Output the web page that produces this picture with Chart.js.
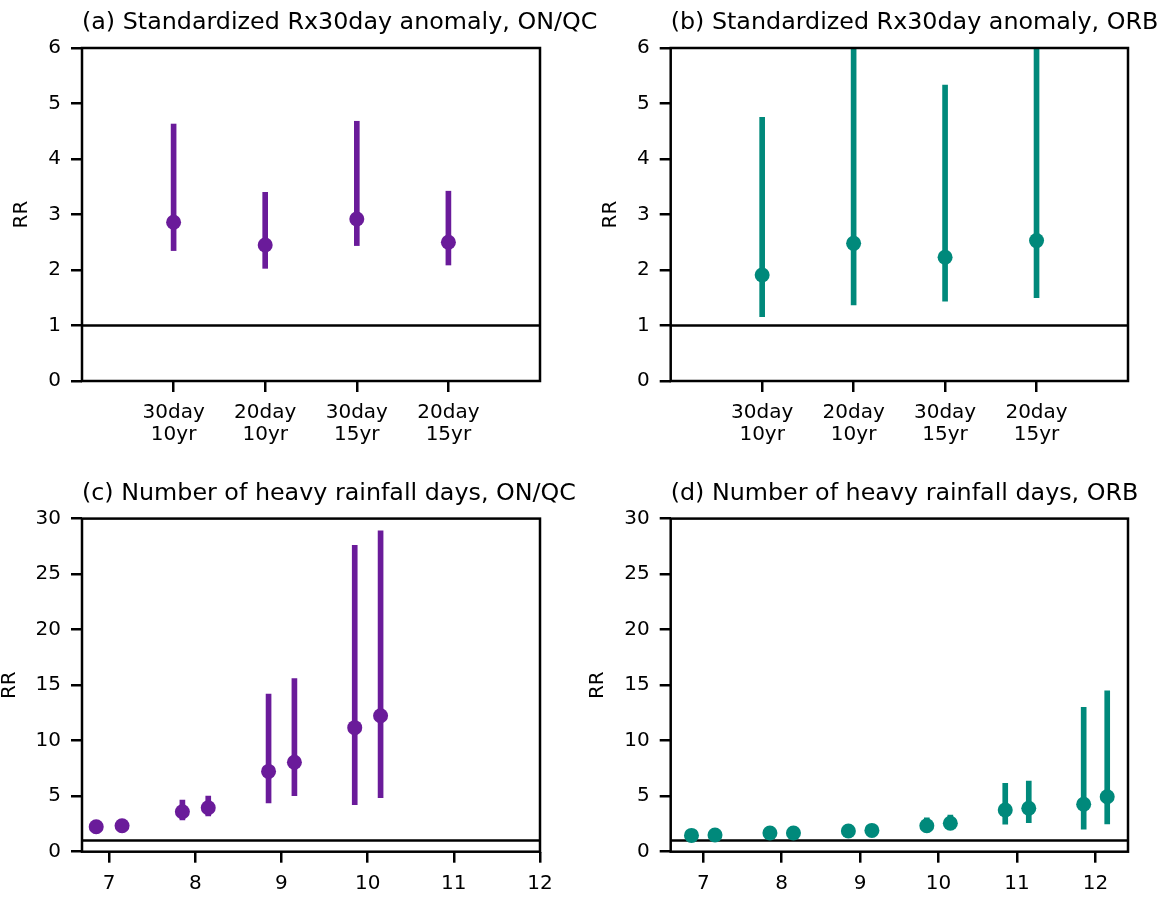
<!DOCTYPE html>
<html>
<head>
<meta charset="utf-8">
<script src="https://cdn.jsdelivr.net/npm/chart.js@4.4.0/dist/chart.umd.min.js"></script>
<style>
  html, body { margin: 0; padding: 0; background: #fff; }
  body { width: 1166px; height: 898px; position: relative; overflow: hidden; }
  canvas { position: absolute; }
</style>
</head>
<body>
<canvas id="pa" width="620" height="470" style="left:0;top:0"></canvas>
<canvas id="pb" width="583" height="470" style="left:583px;top:0"></canvas>
<canvas id="pc" width="620" height="428" style="left:0;top:470px"></canvas>
<canvas id="pd" width="583" height="428" style="left:583px;top:470px"></canvas>
<script>
// Rx30day anomaly panels
const rxCats = [['30day', '10yr'], ['20day', '10yr'], ['30day', '15yr'], ['20day', '15yr']];
const rxPos = [0, 1, 2, 3];
const rxOnqcBest = [2.86, 2.45, 2.92, 2.50];
const rxOnqcLow = [2.35, 2.03, 2.44, 2.09];
const rxOnqcHigh = [4.63, 3.40, 4.68, 3.42];
const rxOrbBest = [1.91, 2.48, 2.23, 2.53];
const rxOrbLow = [1.16, 1.37, 1.44, 1.50];
const rxOrbHigh = [4.75, 6.6, 5.33, 6.9];

// heavy rainfall day panels
const dayTicks = [7, 8, 9, 10, 11, 12];
const onqcDays = [6.85, 7.15, 7.85, 8.15, 8.85, 9.15, 9.85, 10.15];
const onqcBest = [2.25, 2.34, 3.6, 3.96, 7.23, 8.05, 11.17, 12.25];
const onqcLow = [2.0, 2.1, 2.86, 3.22, 4.4, 5.04, 4.23, 4.86];
const onqcHigh = [2.5, 2.6, 4.66, 5.02, 14.2, 15.6, 27.6, 28.9];
const orbDays = [6.85, 7.15, 7.85, 8.15, 8.85, 9.15, 9.85, 10.15, 10.85, 11.15, 11.85, 12.15];
const orbBest = [1.47, 1.50, 1.68, 1.68, 1.86, 1.92, 2.34, 2.56, 3.76, 3.91, 4.27, 4.95];
const orbLow = [1.3, 1.35, 1.5, 1.5, 1.65, 1.7, 2.0, 2.2, 2.47, 2.61, 2.02, 2.5];
const orbHigh = [1.65, 1.7, 1.9, 1.9, 2.1, 2.15, 3.06, 3.3, 6.16, 6.37, 13.0, 14.48];

const purple = '#6a1b9a';
const teal = '#00897b';

Chart.defaults.font.family = '"DejaVu Sans", sans-serif';
Chart.defaults.font.size = 20;
Chart.defaults.color = '#000';

// box round the plot + left aligned title
const frame = {
  id: 'frame',
  afterDatasetsDraw(chart) {
    const { ctx, chartArea: a } = chart;
    ctx.save();
    ctx.strokeStyle = '#000';
    ctx.lineWidth = 2.5;
    ctx.strokeRect(a.left, a.top, a.right - a.left, a.bottom - a.top);
    ctx.restore();
  },
  afterDraw(chart, args, opts) {
    const { ctx, chartArea: a } = chart;
    ctx.save();
    ctx.fillStyle = '#000';
    ctx.font = '23.8px "DejaVu Sans"';
    ctx.textAlign = 'left';
    ctx.textBaseline = 'alphabetic';
    ctx.fillText(opts.text, a.left, a.top - 19);
    ctx.restore();
  }
};

const tickGrid = { offset: false, drawOnChartArea: false, drawTicks: true, tickLength: 11, color: '#000', lineWidth: 2.5 };

function panel(id, o) {
  const pts = o.x.map((x, i) => ({ x: x, y: o.best[i] }));
  const bars = o.x.map((x, i) => ({ x: x, y: [o.low[i], o.high[i]] }));
  new Chart(document.getElementById(id), {
    type: 'bar',
    data: {
      datasets: [
        { type: 'scatter', data: pts, backgroundColor: o.color, pointRadius: 7.5, pointBorderWidth: 0, order: 0 },
        { type: 'bar', data: bars, backgroundColor: o.color, borderWidth: 0, barThickness: 5, order: 1, clip: 0 },
        { type: 'line', data: [{ x: o.xmin, y: 1 }, { x: o.xmax, y: 1 }], borderColor: '#000', borderWidth: 2.5, pointRadius: 0, order: 2 }
      ]
    },
    options: {
      responsive: false,
      animation: false,
      layout: { padding: { left: 0, top: o.top, right: o.right, bottom: 0 } },
      plugins: { legend: { display: false }, tooltip: { enabled: false }, frame: { text: o.title } },
      scales: {
        x: {
          type: 'linear', min: o.xmin, max: o.xmax, offset: false,
          afterBuildTicks: ax => { ax.ticks = o.ticks.map(v => ({ value: v })); },
          afterFit: ax => { ax.height = o.xh; },
          grid: tickGrid,
          border: { display: false },
          ticks: { autoSkip: false, maxRotation: 0, padding: 10, font: { size: 20, lineHeight: 1.1 },
            callback: (v, i) => o.tickLabels[i] }
        },
        y: {
          type: 'linear', min: 0, max: o.ymax,
          afterFit: ax => { ax.width = o.yw; },
          grid: tickGrid,
          border: { display: false },
          ticks: { stepSize: o.ystep, padding: 10 },
          title: { display: true, text: 'RR', padding: { top: o.rrPad, bottom: 0 } }
        }
      }
    },
    plugins: [frame]
  });
}

panel('pa', {
  title: '(a) Standardized Rx30day anomaly, ON/QC', color: purple,
  x: rxPos, best: rxOnqcBest, low: rxOnqcLow, high: rxOnqcHigh,
  xmin: -1, xmax: 4, ticks: rxPos, tickLabels: rxCats, ymax: 6, ystep: 1,
  top: 48, right: 80, yw: 82, xh: 89, rrPad: 10
});
panel('pb', {
  title: '(b) Standardized Rx30day anomaly, ORB', color: teal,
  x: rxPos, best: rxOrbBest, low: rxOrbLow, high: rxOrbHigh,
  xmin: -1, xmax: 4, ticks: rxPos, tickLabels: rxCats, ymax: 6, ystep: 1,
  top: 48, right: 38, yw: 87.7, xh: 89, rrPad: 16
});
panel('pc', {
  title: '(c) Number of heavy rainfall days, ON/QC', color: purple,
  x: onqcDays, best: onqcBest, low: onqcLow, high: onqcHigh,
  xmin: 6.685, xmax: 12, ticks: dayTicks, tickLabels: dayTicks.map(String), ymax: 30, ystep: 5,
  top: 48.6, right: 80, yw: 82, xh: 46.3, rrPad: -2
});
panel('pd', {
  title: '(d) Number of heavy rainfall days, ORB', color: teal,
  x: orbDays, best: orbBest, low: orbLow, high: orbHigh,
  xmin: 6.585, xmax: 12.415, ticks: dayTicks, tickLabels: dayTicks.map(String), ymax: 30, ystep: 5,
  top: 48.6, right: 38, yw: 87.7, xh: 46.3, rrPad: 3
});
</script>
</body>
</html>
